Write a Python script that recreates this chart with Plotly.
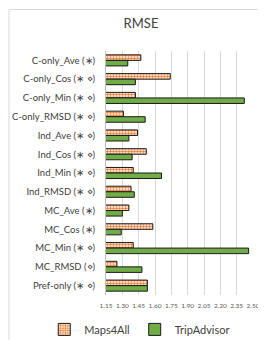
import plotly.graph_objects as go

categories = [
    "C-only_Ave (∗)", "C-only_Cos (∗ ⋄)", "C-only_Min (∗ ⋄)", "C-only_RMSD (∗ ⋄)",
    "Ind_Ave (∗ ⋄)", "Ind_Cos (∗ ⋄)", "Ind_Min (∗ ⋄)", "Ind_RMSD (∗ ⋄)",
    "MC_Ave (∗)", "MC_Cos (∗)", "MC_Min (∗ ⋄)", "MC_RMSD (⋄)", "Pref-only (∗ ⋄)",
]
maps4all = [1.47, 1.74, 1.42, 1.31, 1.44, 1.52, 1.40, 1.38, 1.36, 1.58, 1.40, 1.25, 1.53]
tripadvisor = [1.35, 1.42, 2.42, 1.51, 1.36, 1.39, 1.66, 1.41, 1.30, 1.29, 2.46, 1.48, 1.53]
tick_vals = [1.15, 1.30, 1.45, 1.60, 1.75, 1.90, 2.05, 2.20, 2.35, 2.50]
tick_text = ["1.15", "1.30", "1.45", "1.60", "1.75", "1.90", "2.05", "2.20", "2.35", "2.50"]

FONT = "Lato, Open Sans, sans-serif"

fig = go.Figure()
fig.add_trace(go.Bar(
    y=categories, x=maps4all, orientation="h", name="Maps4All",
    marker=dict(
        color="#ED7D31",
        line=dict(color="#1a1a1a", width=1),
        pattern=dict(shape=".", fillmode="replace", bgcolor="white",
                     fgcolor="#ED7D31", size=3, solidity=0.55),
    ),
))
fig.add_trace(go.Bar(
    y=categories, x=tripadvisor, orientation="h", name="TripAdvisor",
    marker=dict(color="#70AD47", line=dict(color="#1a1a1a", width=1)),
))

fig.update_layout(
    width=266, height=340,
    margin=dict(l=98, r=21, t=43, b=53, autoexpand=False),
    paper_bgcolor="white", plot_bgcolor="white",
    barmode="group", bargap=0.41, bargroupgap=0,
    font=dict(family=FONT, color="#404040"),
    title=dict(text="RMSE", x=0.5, xanchor="center", y=0.955, yanchor="middle",
               font=dict(size=13, color="#404040", family=FONT)),
    showlegend=True,
    legend=dict(orientation="h", x=-0.42, xanchor="left", y=-0.141, yanchor="middle",
                font=dict(size=11, color="#404040", family=FONT),
                itemwidth=30, traceorder="normal", bgcolor="rgba(0,0,0,0)"),
    shapes=[dict(type="rect", xref="paper", yref="paper",
                 x0=-0.66, x1=1.13, y0=-0.205, y1=1.17,
                 line=dict(color="#D9D9D9", width=1), fillcolor="rgba(0,0,0,0)",
                 layer="below")],
)
fig.update_xaxes(
    range=[1.15, 2.50], tickvals=tick_vals, ticktext=tick_text, tickangle=0,
    showgrid=True, gridcolor="#D9D9D9", gridwidth=1, zeroline=False,
    showline=False, tickfont=dict(size=6.5, color="#595959", family=FONT),
    ticks="", ticklabelstandoff=5, automargin=False,
)
fig.update_yaxes(
    autorange="reversed", showgrid=False, showline=True, linecolor="#BFBFBF",
    linewidth=1, ticks="", ticklabelstandoff=8, automargin=False,
    tickfont=dict(size=9.5, color="#404040", family=FONT),
)

fig.write_html("out.html")
